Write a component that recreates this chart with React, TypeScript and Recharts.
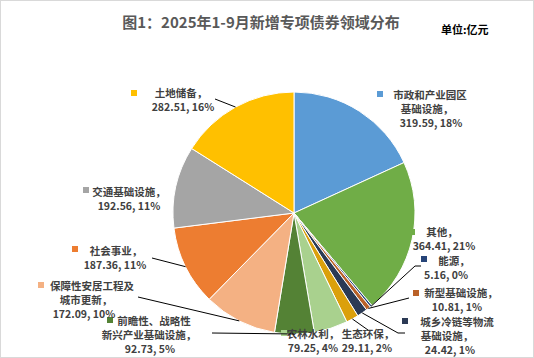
import React from 'react';
import { PieChart, Pie, Cell } from 'recharts';

// 单位：亿元
const categories = [
  '市政和产业园区基础设施',
  '其他',
  '能源',
  '新型基础设施',
  '城乡冷链等物流基础设施',
  '生态环保',
  '农林水利',
  '前瞻性、战略性新兴产业基础设施',
  '保障性安居工程及城市更新',
  '社会事业',
  '交通基础设施',
  '土地储备',
];
const amounts = [319.59, 364.41, 5.16, 10.81, 24.42, 29.11, 79.25, 92.73, 172.09, 187.36, 192.56, 282.51];
const percents = ['18%', '21%', '0%', '1%', '1%', '2%', '4%', '5%', '10%', '11%', '11%', '16%'];
// how each label is broken into lines
const labelLines = [
  ['市政和产业园区', '基础设施，'],
  ['其他，'],
  ['能源，'],
  ['新型基础设施，'],
  ['城乡冷链等物流', '基础设施，'],
  ['生态环保，'],
  ['农林水利，'],
  ['前瞻性、战略性', '新兴产业基础设施，'],
  ['保障性安居工程及', '城市更新，'],
  ['社会事业，'],
  ['交通基础设施，'],
  ['土地储备，'],
];

const colors = ['#5B9BD5', '#70AD47', '#264478', '#BA6128', '#2B3A55', '#DBA00C', '#A9D18E', '#548235', '#F4B183', '#ED7D31', '#A5A5A5', '#FFC000'];

// label layout: text centre x per line, first line y, marker, leader line end
type LabelPos = { cx: number[]; y: number; m?: [number, number]; lead?: [number, number][] };
const labelLayout: LabelPos[] = [
  { cx: [430, 427, 431], y: 94.5, m: [380, 94] },
  { cx: [442, 444], y: 231.5, m: [412, 232] },
  { cx: [454, 446], y: 260, m: [424, 259], lead: [[415, 266], [421, 266]] },
  { cx: [461, 457], y: 292.5, m: [416, 293], lead: [[409, 298]] },
  { cx: [457, 447, 450], y: 321, m: [405, 321], lead: [[398, 333], [405, 333]] },
  { cx: [368, 367], y: 333, lead: [[368, 330]] },
  { cx: [313, 313], y: 333, m: [284, 333] },
  { cx: [154, 149, 150], y: 320.5, m: [110, 320], lead: [[212, 333]] },
  { cx: [92, 86, 84], y: 285, m: [41, 285], lead: [[138, 297]] },
  { cx: [116, 115], y: 250, m: [75, 249], lead: [[152, 258]] },
  { cx: [129, 129], y: 191, m: [86, 190] },
  { cx: [181, 183], y: 92.5, m: [134, 93], lead: [[215, 99]] },
];

const data = categories.map((name, i) => ({ name, value: amounts[i] }));

const RAD = Math.PI / 180;
const FONT = '"Noto Sans CJK SC", "Noto Sans", sans-serif';

const renderLabel = (props: any) => {
  const { cx, cy, midAngle, outerRadius, index } = props;
  const pos = labelLayout[index];
  const lines = [...labelLines[index], `${amounts[index].toFixed(2)}, ${percents[index]}`];
  const ex = cx + outerRadius * Math.cos(-midAngle * RAD);
  const ey = cy + outerRadius * Math.sin(-midAngle * RAD);
  return (
    <g key={`lbl-${index}`}>
      {pos.lead && (
        <polyline
          points={[[ex, ey], ...pos.lead].map((p) => p.join(',')).join(' ')}
          fill="none"
          stroke="#000"
          strokeWidth={1}
        />
      )}
      {pos.m && <rect x={pos.m[0] - 3} y={pos.m[1] - 3} width={6} height={6} fill={colors[index]} />}
      {lines.map((t, j) => (
        <text
          key={j}
          x={pos.cx[j]}
          y={pos.y + j * 14}
          textAnchor="middle"
          dominantBaseline="central"
          fontSize={10.5}
          fontWeight={700}
          fill="#404040"
          fontFamily={FONT}
        >
          {t}
        </text>
      ))}
    </g>
  );
};

export default function App() {
  return (
    <div
      style={{
        position: 'relative',
        width: 534,
        height: 358,
        boxSizing: 'border-box',
        border: '1px solid #d9d9d9',
        background: '#fff',
        fontFamily: FONT,
      }}
    >
      <style>{'body{margin:0}'}</style>
      <div
        style={{
          position: 'absolute',
          left: 0,
          width: 520,
          top: 11,
          textAlign: 'center',
          fontSize: 15,
          fontWeight: 700,
          color: '#595959',
          lineHeight: '20px',
        }}
      >
        图1：2025年1-9月新增专项债券领域分布
      </div>
      <div
        style={{
          position: 'absolute',
          left: 440,
          top: 20,
          fontSize: 11,
          fontWeight: 700,
          color: '#000',
          lineHeight: '16px',
        }}
      >
        单位:亿元
      </div>
      <div style={{ position: 'absolute', left: -1, top: -1 }}>
        <PieChart width={534} height={358}>
          <Pie
            data={data}
            dataKey="value"
            nameKey="name"
            cx={289}
            cy={208}
            outerRadius={121}
            startAngle={90}
            endAngle={-270}
            stroke="#fff"
            strokeWidth={1}
            label={renderLabel}
            labelLine={false}
            isAnimationActive={false}
          >
            {data.map((d, i) => (
              <Cell key={d.name} fill={colors[i]} />
            ))}
          </Pie>
        </PieChart>
      </div>
    </div>
  );
}
